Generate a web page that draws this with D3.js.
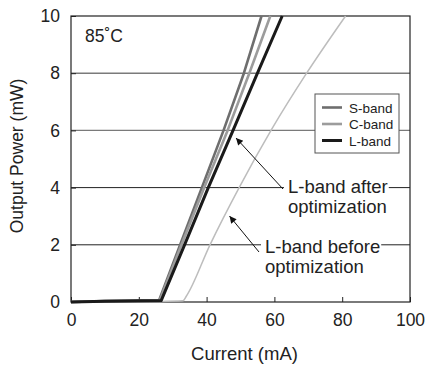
<!DOCTYPE html>
<html lang="en">
<head>
  <meta charset="UTF-8">
  <title>Output power vs current</title>
  <style>
    body { margin: 0; background: #fff; }
    text { font-family: "Liberation Sans", Arial, sans-serif; fill: #222; }
  </style>
</head>
<body>
<div id="output"></div>
<script src="https://d3js.org/d3.v7.min.js"></script>
<script type="text/javascript">
  // values
  const xTicks = [0, 20, 40, 60, 80, 100];
  const yTicks = [0, 2, 4, 6, 8, 10];
  const gridLevels = [2, 4, 6, 8];

  const sBandI = [0, 10, 20, 26.0, 32.2, 38.6, 45.0, 51.0, 56.2];
  const sBandP = [0, 0.03, 0.04, 0.06, 2, 4, 6, 8, 10];
  const cBandI = [0, 10, 20, 26.2, 32.6, 39.3, 46.2, 52.6, 58.8];
  const cBandP = [0, 0.03, 0.04, 0.06, 2, 4, 6, 8, 10];
  const lBandI = [0, 10, 20, 26.6, 33.5, 40.5, 47.8, 55.0, 62.3];
  const lBandP = [0, 0.03, 0.04, 0.05, 2, 4, 6, 8, 10];
  const beforeI = [0, 26, 33, 34, 41, 49.6, 59, 69.5, 81];
  const beforeP = [0, 0.02, 0.04, 0.2, 2, 4, 6, 8, 10];

  const legendNames = ["S-band", "C-band", "L-band"];

  const W = 425, H = 365;
  const m = {left: 71, right: 15, top: 16, bottom: 63};

  const svg = d3.select("#output").append("svg")
    .attr("width", W).attr("height", H);

  const x = d3.scaleLinear().domain([0, 100]).range([m.left, W - m.right]);
  const y = d3.scaleLinear().domain([0, 10]).range([H - m.bottom, m.top]);

  // grid lines (upper two grey, lower two black like the scan)
  svg.selectAll(".grid").data(gridLevels).enter().append("line")
    .attr("x1", x(0)).attr("x2", x(100))
    .attr("y1", d => y(d)).attr("y2", d => y(d))
    .style("stroke", d => d >= 6 ? "#7a7a7a" : "#222")
    .style("stroke-width", d => d >= 6 ? 1.4 : 1);

  // axes
  const xAxis = svg.append("g")
    .attr("transform", `translate(0,${y(0)})`)
    .call(d3.axisBottom(x).tickValues(xTicks).tickSizeInner(-5).tickSizeOuter(0).tickPadding(12));
  const yAxis = svg.append("g")
    .attr("transform", `translate(${x(0)},0)`)
    .call(d3.axisLeft(y).tickValues(yTicks).tickSizeInner(-5).tickSizeOuter(0).tickPadding(11));
  [xAxis, yAxis].forEach(g => {
    g.select(".domain").remove();
    g.selectAll("line").style("stroke", "#222");
    g.selectAll("text").style("font-size", "17.5px")
      .style("font-family", '"Liberation Sans", Arial, sans-serif').attr("fill", "#222");
  });

  // frame
  svg.append("rect")
    .attr("x", x(0)).attr("y", y(10))
    .attr("width", x(100) - x(0)).attr("height", y(0) - y(10))
    .style("fill", "none").style("stroke", "#222").style("stroke-width", 1.2);

  // curves
  const line = d3.line().x(d => x(d[0])).y(d => y(d[1]));
  const smooth = d3.line().curve(d3.curveMonotoneX).x(d => x(d[0])).y(d => y(d[1]));
  const series = [
    {I: beforeI, P: beforeP, color: "#bdbdbd", w: 1.5, gen: smooth},
    {I: sBandI, P: sBandP, color: "#6e6e6e", w: 2.6, gen: line},
    {I: cBandI, P: cBandP, color: "#9c9c9c", w: 2.6, gen: line},
    {I: lBandI, P: lBandP, color: "#1a1a1a", w: 3, gen: line}
  ];
  series.forEach(s => {
    svg.append("path")
      .datum(d3.zip(s.I, s.P))
      .attr("d", s.gen)
      .style("fill", "none")
      .style("stroke", s.color)
      .style("stroke-width", s.w)
      .style("stroke-linejoin", "round");
  });

  // axis titles
  svg.append("text")
    .attr("x", (x(0) + x(100)) / 2 + 4).attr("y", 360)
    .attr("text-anchor", "middle").style("font-size", "18.5px")
    .text("Current (mA)");
  svg.append("text")
    .attr("transform", `translate(23,${(y(0) + y(10)) / 2 - 3}) rotate(-90)`)
    .attr("text-anchor", "middle").style("font-size", "17.5px")
    .text("Output Power (mW)");

  svg.append("text")
    .attr("x", 85).attr("y", 42).style("font-size", "17.5px")
    .text("85˚C");

  // legend
  const leg = svg.append("g");
  leg.append("rect")
    .attr("x", 315).attr("y", 94).attr("width", 84).attr("height", 59)
    .style("fill", "#fff").style("stroke", "#555").style("stroke-width", 1);
  const legColors = ["#6e6e6e", "#9c9c9c", "#1a1a1a"];
  const legW = [2.6, 2.6, 3];
  legendNames.forEach((n, i) => {
    const yy = 107.5 + i * 16.5;
    leg.append("line")
      .attr("x1", 322).attr("x2", 342).attr("y1", yy).attr("y2", yy)
      .style("stroke", legColors[i]).style("stroke-width", legW[i]);
    leg.append("text")
      .attr("x", 349).attr("y", yy + 5).style("font-size", "13.5px")
      .text(n);
  });

  // annotations with arrows
  svg.append("defs").append("marker")
    .attr("id", "arrow").attr("viewBox", "0 0 10 10")
    .attr("refX", 10).attr("refY", 5)
    .attr("markerWidth", 9).attr("markerHeight", 7)
    .attr("markerUnits", "userSpaceOnUse")
    .attr("orient", "auto")
    .append("path").attr("d", "M0,0 L10,5 L0,10 Z").style("fill", "#111");

  const notes = [
    {lines: ["L-band after", "optimization"], tx: 288, ty: 193, from: [283, 189], to: [236, 138]},
    {lines: ["L-band before", "optimization"], tx: 265, ty: 253, from: [259, 252], to: [229.5, 216]}
  ];
  notes.forEach(n => {
    const g = svg.append("g");
    const bg = g.append("rect").style("fill", "#fff");
    const t1 = g.append("text").attr("x", n.tx).attr("y", n.ty)
      .style("font-size", "18.5px").text(n.lines[0]);
    const bb = t1.node().getBBox();
    bg.attr("x", bb.x - 4).attr("y", bb.y + 2).attr("width", bb.width + 5).attr("height", bb.height - 4);
    g.append("text").attr("x", n.tx).attr("y", n.ty + 19.5)
      .style("font-size", "18.5px").text(n.lines[1]);
    svg.append("line")
      .attr("x1", n.from[0]).attr("y1", n.from[1])
      .attr("x2", n.to[0]).attr("y2", n.to[1])
      .style("stroke", "#111").style("stroke-width", 1)
      .attr("marker-end", "url(#arrow)");
  });
</script>
</body>
</html>
